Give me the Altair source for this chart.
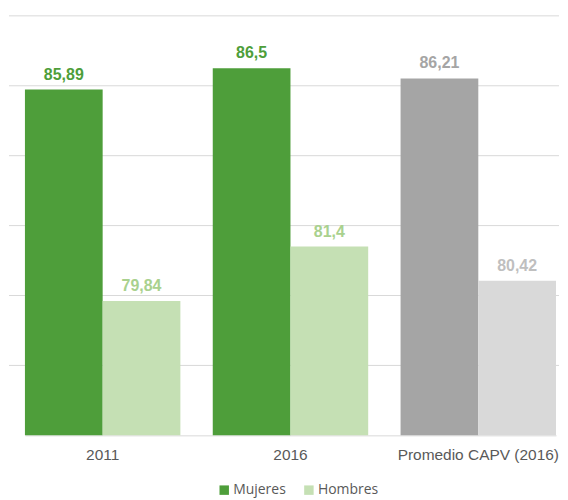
import altair as alt
import pandas as pd

grupos = ["2011", "2016", "Promedio CAPV (2016)"]
mujeres = [85.89, 86.5, 86.21]
hombres = [79.84, 81.4, 80.42]
etiquetas_m = ["85,89", "86,5", "86,21"]
etiquetas_h = ["79,84", "81,4", "80,42"]
grid_values = [78, 80, 82, 84, 86, 88]

rows = []
for g, m, h, lm, lh in zip(grupos, mujeres, hombres, etiquetas_m, etiquetas_h):
    suf = " CAPV" if "CAPV" in g else ""
    rows.append({"grupo": g, "sexo": "Mujeres", "valor": m, "etiqueta": lm, "clave": "Mujeres" + suf})
    rows.append({"grupo": g, "sexo": "Hombres", "valor": h, "etiqueta": lh, "clave": "Hombres" + suf})
df = pd.DataFrame(rows)
grid_df = pd.DataFrame({"valor": grid_values})

claves = ["Mujeres", "Hombres", "Mujeres CAPV", "Hombres CAPV"]
bar_colors = ["#4e9e3a", "#c5e0b4", "#a5a5a5", "#d9d9d9"]
text_colors = ["#4e9e3a", "#a9d18e", "#a5a5a5", "#bfbfbf"]

yscale = alt.Scale(domain=[76, 88], zero=False, nice=False)

x = alt.X("grupo:N", sort=grupos, title=None,
          scale=alt.Scale(range=[16, 549], paddingInner=0.1724, paddingOuter=0),
          axis=alt.Axis(labelAngle=0, ticks=False, domainColor="#d9d9d9", domainWidth=1,
                        labelFont="Liberation Sans", labelFontSize=15.5, labelColor="#595959",
                        labelPadding=12, grid=False))
y = alt.Y("valor:Q", title=None, scale=yscale, axis=None)
xo = alt.XOffset("sexo:N", sort=["Mujeres", "Hombres"], scale=alt.Scale(paddingInner=0, paddingOuter=0))

grid = alt.Chart(grid_df).mark_rule(color="#d9d9d9", strokeWidth=1).encode(
    y=alt.Y("valor:Q", scale=yscale, axis=None)
)

bars = alt.Chart(df).mark_bar().encode(
    x=x, y=y, y2=alt.datum(76), xOffset=xo,
    color=alt.Color("clave:N", scale=alt.Scale(domain=claves, range=bar_colors),
                    legend=alt.Legend(values=["Mujeres", "Hombres"], title=None, orient="none",
                                      legendX=209, legendY=469,
                                      direction="horizontal", symbolType="square", symbolSize=90,
                                      symbolStrokeWidth=0, labelFont="Open Sans", labelFontSize=14,
                                      labelColor="#595959", columnPadding=16,
                                      symbolOffset=0, labelOffset=2))
)

texts = alt.Chart(df).mark_text(
    fontWeight="bold", fontSize=16, font="Liberation Sans", baseline="alphabetic", dy=-10).encode(
    x=x, y=y, xOffset=xo, text="etiqueta:N",
    color=alt.Color("clave:N", scale=alt.Scale(domain=claves, range=text_colors), legend=None)
)

chart = alt.layer(grid, bars, texts).resolve_scale(color="independent").properties(
    width=552, height=421,
    padding={"top": 6, "left": 0, "right": 0, "bottom": 0}
).configure_view(stroke=None)

chart.save("out.html", embed_options={"renderer": "svg", "actions": False})
